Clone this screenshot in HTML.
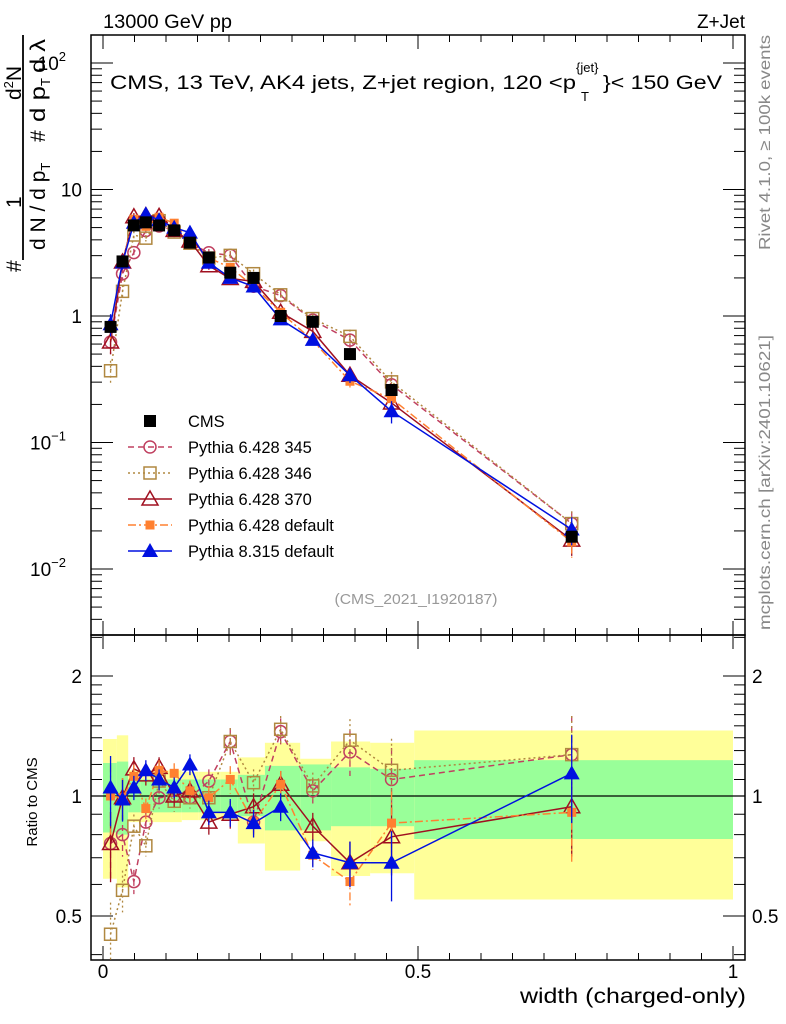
<!DOCTYPE html>
<html><head><meta charset="utf-8"><style>
body{margin:0;background:#fff}
svg{display:block;font-family:"Liberation Sans",sans-serif}
</style></head><body>
<svg id="c" width="786" height="1024" viewBox="0 0 786 1024">
<g id="bands"></g>
<g id="axes"></g>
<g id="series"></g>
<g id="legend"></g>
<text x="103" y="28" font-size="19" textLength="129" lengthAdjust="spacingAndGlyphs">13000 GeV pp</text>
<text x="745" y="28" font-size="19" text-anchor="end">Z+Jet</text>
<g font-size="19">
<text x="110" y="89" textLength="466" lengthAdjust="spacingAndGlyphs">CMS, 13 TeV, AK4 jets, Z+jet region, 120 &lt;p</text>
<text x="581" y="101" font-size="13">T</text>
<text x="576" y="72" font-size="13">{jet}</text>
<text x="603" y="89" textLength="119" lengthAdjust="spacingAndGlyphs">}&lt; 150 GeV</text>
</g>
<text x="416" y="604" font-size="15" fill="#999" text-anchor="middle" textLength="163" lengthAdjust="spacingAndGlyphs">(CMS_2021_I1920187)</text>
<text transform="translate(770,250) rotate(-90)" font-size="16" fill="#888" textLength="215" lengthAdjust="spacingAndGlyphs">Rivet 4.1.0, ≥ 100k events</text>
<text transform="translate(770,630) rotate(-90)" font-size="16" fill="#888" textLength="295" lengthAdjust="spacingAndGlyphs">mcplots.cern.ch [arXiv:2401.10621]</text>
<g font-size="21">
<text transform="translate(21,272) rotate(-90)">#</text>
<text transform="translate(21,208) rotate(-90)">1</text>
<text transform="translate(21,100) rotate(-90)">d<tspan font-size="13" dy="-8">2</tspan><tspan dy="8">N</tspan></text>
<line x1="23" y1="260" x2="23" y2="35" stroke="#000" stroke-width="1.8"/>
<text transform="translate(45,250) rotate(-90)">d N / d p<tspan font-size="13" dy="5">T</tspan></text>
<text transform="translate(45,142) rotate(-90)">#</text>
<text transform="translate(45,122) rotate(-90)" textLength="36" lengthAdjust="spacingAndGlyphs">d p</text>
<text transform="translate(50,86) rotate(-90)" font-size="13">T</text>
<text transform="translate(45,73) rotate(-90)" textLength="34" lengthAdjust="spacingAndGlyphs">d λ</text>
</g>
<text transform="translate(37,802) rotate(-90)" font-size="15" text-anchor="middle">Ratio to CMS</text>
<text x="746" y="1003" font-size="21" text-anchor="end" textLength="226" lengthAdjust="spacingAndGlyphs">width (charged-only)</text>
</svg>
<script>
const xs=[0.012,0.031,0.049,0.068,0.089,0.113,0.138,0.168,0.202,0.239,0.282,0.333,0.392,0.458,0.744];
const edges=[0,0.022,0.040,0.059,0.078,0.100,0.125,0.152,0.186,0.214,0.257,0.313,0.362,0.424,0.494,1.0];
const cms=[0.82,2.7,5.2,5.5,5.2,4.75,3.8,2.9,2.2,2.0,1.0,0.9,0.5,0.26,0.018];
const yelHi=[1.39,1.42,1.16,1.16,1.16,1.16,1.15,1.15,1.15,1.25,1.36,1.24,1.37,1.36,1.46];
const yelLo=[0.62,0.59,0.86,0.86,0.86,0.86,0.87,0.87,0.87,0.76,0.65,0.77,0.63,0.64,0.55];
const grnHi=[1.21,1.22,1.10,1.10,1.10,1.10,1.10,1.10,1.10,1.13,1.19,1.20,1.18,1.17,1.23];
const grnLo=[0.81,0.80,0.91,0.91,0.91,0.91,0.91,0.91,0.91,0.89,0.82,0.82,0.84,0.84,0.78];
const r345=[0.76,0.80,0.61,0.86,0.99,1.00,0.99,1.09,1.37,0.86,1.45,1.03,1.29,1.10,1.27];
const r346=[0.45,0.58,0.84,0.75,1.09,0.97,0.99,0.99,1.37,1.08,1.47,1.06,1.38,1.16,1.27];
const r370=[0.76,0.99,1.17,1.13,1.18,1.00,1.03,0.86,0.90,0.94,1.07,0.84,0.68,0.79,0.94];
const rdef=[1.00,0.99,1.12,0.93,1.16,1.14,1.03,0.99,1.10,0.86,1.07,0.71,0.61,0.855,0.91];
const r8=[1.05,0.98,1.05,1.16,1.10,1.05,1.20,0.91,0.91,0.855,0.94,0.72,0.68,0.68,1.14];
const errRel=[0.2,0.12,0.07,0.06,0.06,0.06,0.06,0.07,0.08,0.08,0.08,0.08,0.13,0.2,0.25];
const xTicks=[0,0.5,1];
const xTickLabels=["0","0.5","1"];
const yTicks=[0.01,0.1,1,10,100];
const rTicks=[0.5,1,2];

const NS="http://www.w3.org/2000/svg";
const L=91,R=745,T=35,M=635,B=960;
const X=v=>103+v*630;
const Y=v=>316-126.5*Math.log10(v);
const RY=v=>796-398.6*Math.log10(v);
function mk(p,tag,at){const e=document.createElementNS(NS,tag);for(const k in at)e.setAttribute(k,at[k]);p.appendChild(e);return e;}
const gb=document.getElementById('bands'),ga=document.getElementById('axes'),gs=document.getElementById('series'),gl=document.getElementById('legend');

const defs=mk(document.getElementById('c'),'defs',{});
const cp=mk(defs,'clipPath',{id:'rc'});mk(cp,'rect',{x:L,y:M,width:R-L,height:B-M});
const cp2=mk(defs,'clipPath',{id:'mc'});mk(cp2,'rect',{x:L,y:T,width:R-L,height:M-T});

for(let i=0;i<xs.length;i++){
 const x0=X(edges[i]),x1=X(edges[i+1]);
 let e=mk(gb,'rect',{x:x0,y:RY(yelHi[i]),width:x1-x0,height:RY(yelLo[i])-RY(yelHi[i]),fill:'#ffff99'});
 
 
 e=mk(gb,'rect',{x:x0,y:RY(grnHi[i]),width:x1-x0,height:RY(grnLo[i])-RY(grnHi[i]),fill:'#99ff99'});
 
 
}
mk(ga,'rect',{x:L,y:T,width:R-L,height:M-T,fill:'none',stroke:'#000','stroke-width':1.5});
mk(ga,'rect',{x:L,y:M,width:R-L,height:B-M,fill:'none',stroke:'#000','stroke-width':1.5});
mk(ga,'line',{x1:L,y1:RY(1),x2:R,y2:RY(1),stroke:'#000','stroke-width':1.3});
for(let k=0;k<=20;k++){const v=k*0.05,px=X(v);if(px>R)continue;const maj=(k%10==0);const h=maj?14:7;
 for(const [y0,dir] of [[M,-1],[B,-1],[T,1],[M,1]]) mk(ga,'line',{x1:px,y1:y0,x2:px,y2:y0+dir*h,stroke:'#000'});
}
xTicks.forEach((v,i)=>{const t=mk(ga,'text',{x:X(v),y:978,'font-size':19,'text-anchor':'middle'});t.textContent=xTickLabels[i];
 
 });
for(let d=-3;d<=2;d++)for(let m=1;m<10;m++){const v=m*Math.pow(10,d);const py=Y(v);if(py<T||py>M)continue;const h=m==1?22:11;
 mk(ga,'line',{x1:L,y1:py,x2:L+h,y2:py,stroke:'#000'});mk(ga,'line',{x1:R,y1:py,x2:R-h,y2:py,stroke:'#000'});}
const yl=[["10","−2"],["10","−1"],["1",""],["10",""],["10","2"]];
yTicks.forEach((v,i)=>{const t=mk(ga,'text',{x:82,y:Y(v)+7,'font-size':19,'text-anchor':'end'});
 
 
 if(yl[i][1]){t.setAttribute('x',66);t.textContent=yl[i][0];const s=mk(t,'tspan',{'font-size':13,dy:-9});s.textContent=yl[i][1];}else t.textContent=yl[i][0];});
for(const v of [0.4,0.5,0.6,0.7,0.8,0.9,1,1.1,1.2,1.3,1.4,1.5,1.6,1.7,1.8,1.9,2,2.5]){const py=RY(v);if(py<M||py>B)continue;const h=(v==0.5||v==1||v==2)?22:11;
 mk(ga,'line',{x1:L,y1:py,x2:L+h,y2:py,stroke:'#000'});mk(ga,'line',{x1:R,y1:py,x2:R-h,y2:py,stroke:'#000'});}
rTicks.forEach(v=>{for(const [x,a] of [[82,'end'],[752,'start']]){const t=mk(ga,'text',{x:x,y:RY(v)+7,'font-size':19,'text-anchor':a});t.textContent=String(v);
 
 }});

function marker(g,type,x,y,col){
 const s=6;
 if(type=='fsq')return mk(g,'rect',{x:x-s,y:y-s,width:2*s,height:2*s,fill:col});
 if(type=='osq')return mk(g,'rect',{x:x-s,y:y-s,width:2*s,height:2*s,fill:'none',stroke:col,'stroke-width':1.5});
 if(type=='oci')return mk(g,'circle',{cx:x,cy:y,r:s,fill:'none',stroke:col,'stroke-width':1.5});
 if(type=='otr')return mk(g,'polygon',{points:`${x},${y-8} ${x-8},${y+6} ${x+8},${y+6}`,fill:'none',stroke:col,'stroke-width':1.5});
 if(type=='ftr')return mk(g,'polygon',{points:`${x},${y-8} ${x-8},${y+6} ${x+8},${y+6}`,fill:col});
 if(type=='fsqs')return mk(g,'rect',{x:x-4.5,y:y-4.5,width:9,height:9,fill:col});
}
const series=[
 {name:'Pythia 6.428 345',r:r345,col:'#c04060',dash:'6,4',m:'oci',key:'p6-345'},
 {name:'Pythia 6.428 346',r:r346,col:'#b08840',dash:'2,3',m:'osq',key:'p6-346'},
 {name:'Pythia 6.428 370',r:r370,col:'#a01020',dash:'',m:'otr',key:'p6-370'},
 {name:'Pythia 6.428 default',r:rdef,col:'#ff8030',dash:'8,3,2,3',m:'fsqs',key:'p6-default'},
 {name:'Pythia 8.315 default',r:r8,col:'#0010e0',dash:'',m:'ftr',key:'p8-default'}];
series.forEach(s=>{
 const g=mk(gs,'g',{});
 
 
 const gm=mk(g,'g',{'clip-path':'url(#mc)'}),gr=mk(g,'g',{'clip-path':'url(#rc)'});
 const mp=xs.map((x,i)=>[X(x),Y(cms[i]*s.r[i])]),rp=xs.map((x,i)=>[X(x),RY(s.r[i])]);
 for(const [gg,pts,vals,yf] of [[gm,mp,xs.map((x,i)=>cms[i]*s.r[i]),Y],[gr,rp,s.r,RY]]){
  const pl=mk(gg,'polyline',{points:pts.map(p=>p.join(',')).join(' '),fill:'none',stroke:s.col,'stroke-width':1.5,'stroke-dasharray':s.dash});
  
  
  vals.forEach((v,i)=>{const e=errRel[i];mk(gg,'line',{x1:pts[i][0],x2:pts[i][0],y1:yf(v*(1+e)),y2:yf(v*(1-e)),stroke:s.col,'stroke-width':1.3,'stroke-dasharray':s.dash});
   const m=marker(gg,s.m,pts[i][0],pts[i][1],s.col);
   
   });
 }
});
const gc=mk(gs,'g',{});


cms.forEach((v,i)=>{const m=marker(gc,'fsq',X(xs[i]),Y(v),'#000');
 
 });
const leg=[{name:'CMS',m:'fsq',col:'#000',dash:null}].concat(series);
leg.forEach((s,i)=>{const y=421+i*26;const g=mk(gl,'g',{});
 
 
 if(s.dash!==null)mk(g,'line',{x1:128,x2:172,y1:y,y2:y,stroke:s.col,'stroke-width':1.5,'stroke-dasharray':s.dash});
 marker(g,s.m,150,y,s.col);
 const t=mk(g,'text',{x:188,y:y+6,'font-size':16.5});t.textContent=s.name;});
</script>
</body></html>
